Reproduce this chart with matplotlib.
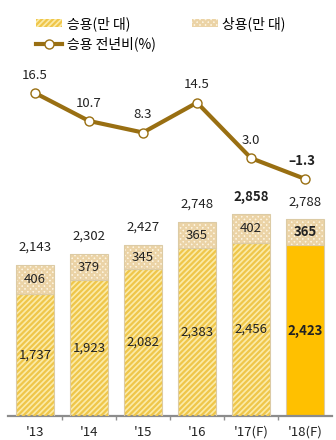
import matplotlib
matplotlib.use('Agg')
import matplotlib.pyplot as plt
from matplotlib.patches import Patch
from matplotlib.lines import Line2D

plt.rcParams['font.family'] = ['Noto Sans CJK KR', 'DejaVu Sans']
plt.rcParams['hatch.linewidth'] = 1.6

# 데이터
연도 = ["'13", "'14", "'15", "'16", "'17(F)", "'18(F)"]
승용 = [1737, 1923, 2082, 2383, 2456, 2423]
상용 = [406, 379, 345, 365, 402, 365]
합계 = [2143, 2302, 2427, 2748, 2858, 2788]
승용_전년비 = [16.5, 10.7, 8.3, 14.5, 3.0, -1.3]

# 색상
배경_노랑 = '#FBEBA8'
빗금_노랑 = '#EFC64A'
상용_배경 = '#FDF5E2'
상용_무늬 = '#EBD3A6'
테두리 = '#DCCBA5'
진노랑 = '#FFC000'
선_색 = '#996F12'
글자 = '#222222'

fig = plt.figure(figsize=(3.36, 4.40), dpi=100)
ax = fig.add_axes([8 / 336, 24 / 440, 324 / 336, 416 / 440])
x = list(range(len(연도)))
w = 0.7

# 승용 막대 (마지막 해는 단색)
for i in x:
    if i == len(x) - 1:
        ax.bar(i, 승용[i], width=w, color=진노랑, edgecolor=테두리, linewidth=0.8, zorder=2)
    else:
        ax.bar(i, 승용[i], width=w, color=배경_노랑, linewidth=0, zorder=2)
        ax.bar(i, 승용[i], width=w, color='none', edgecolor=빗금_노랑, hatch='//////',
               linewidth=0, zorder=3)
        ax.bar(i, 승용[i], width=w, color='none', edgecolor=테두리, linewidth=0.8, zorder=4)

# 상용 막대
ax.bar(x, 상용, bottom=승용, width=w, color=상용_배경, linewidth=0, zorder=2)
ax.bar(x, 상용, bottom=승용, width=w, color='none', edgecolor=상용_무늬, hatch='xxxxxx',
       linewidth=0, zorder=3)
ax.bar(x, 상용, bottom=승용, width=w, color='none', edgecolor=테두리, linewidth=0.8, zorder=4)

# 값 표시
for i in x:
    굵게 = 'bold' if i == len(x) - 1 else 'normal'
    ax.text(i, 승용[i] / 2, f'{승용[i]:,}', ha='center', va='center', fontsize=9.5,
            color=글자, fontweight=굵게, zorder=5)
    ax.text(i, 승용[i] + 상용[i] / 2, f'{상용[i]:,}', ha='center', va='center', fontsize=9.5,
            color=글자, fontweight=굵게, zorder=5)
    합계_굵게 = 'bold' if i == 4 else 'normal'
    ax.text(i, 합계[i] + 250, f'{합계[i]:,}', ha='center', va='center', fontsize=9.5,
            color=글자, fontweight=합계_굵게, zorder=5)

ax.set_xlim(-0.5, len(x) - 0.5)
ax.set_ylim(0, 5900)
ax.set_yticks([])
ax.set_xticks(x)
ax.set_xticklabels(연도, fontsize=9.5, color=글자)
ax.set_xticks([i + 0.5 for i in x[:-1]], minor=True)
ax.tick_params(axis='x', which='major', length=0, pad=7)
ax.tick_params(axis='x', which='minor', length=3, width=1, color='#909090', direction='out')
for s in ['top', 'right', 'left']:
    ax.spines[s].set_visible(False)
ax.spines['bottom'].set_color('#8C8C8C')
ax.spines['bottom'].set_linewidth(1.6)
ax.set_facecolor('none')

# 전년비 선
ax2 = ax.twinx()
ax2.plot(x, 승용_전년비, color=선_색, linewidth=3, marker='o', markersize=6.5,
         markerfacecolor='white', markeredgecolor=선_색, markeredgewidth=1, zorder=6)
for i, v in enumerate(승용_전년비):
    굵게 = 'bold' if i == len(x) - 1 else 'normal'
    dx = -0.05 if i == len(x) - 1 else 0
    ax2.text(i + dx, v + 3.7, f'{v:.1f}'.replace('-', '–'), ha='center', va='center',
             fontsize=9.5, color=글자, fontweight=굵게)
ax2.set_ylim(-50.4, 35.75)
ax2.set_yticks([])
ax2.axis('off')

# 범례
핸들 = [
    Patch(facecolor=배경_노랑, edgecolor=빗금_노랑, hatch='//////', linewidth=0),
    Line2D([], [], color=선_색, linewidth=3, marker='o', markersize=6.5,
           markerfacecolor='white', markeredgecolor=선_색),
    Patch(facecolor=상용_배경, edgecolor=상용_무늬, hatch='xxxxxx', linewidth=0),
]
이름 = ['승용(만 대)', '승용 전년비(%)', '상용(만 대)']
fig.legend(핸들, 이름, ncol=2, loc='upper left', bbox_to_anchor=(36 / 336, 1 - 16 / 440),
           frameon=False, fontsize=10, handlelength=1.9, handleheight=0.6,
           handletextpad=0.3, columnspacing=2.6, labelspacing=0.4,
           borderpad=0, borderaxespad=0, numpoints=1)

fig.savefig('out.png', dpi=100)
